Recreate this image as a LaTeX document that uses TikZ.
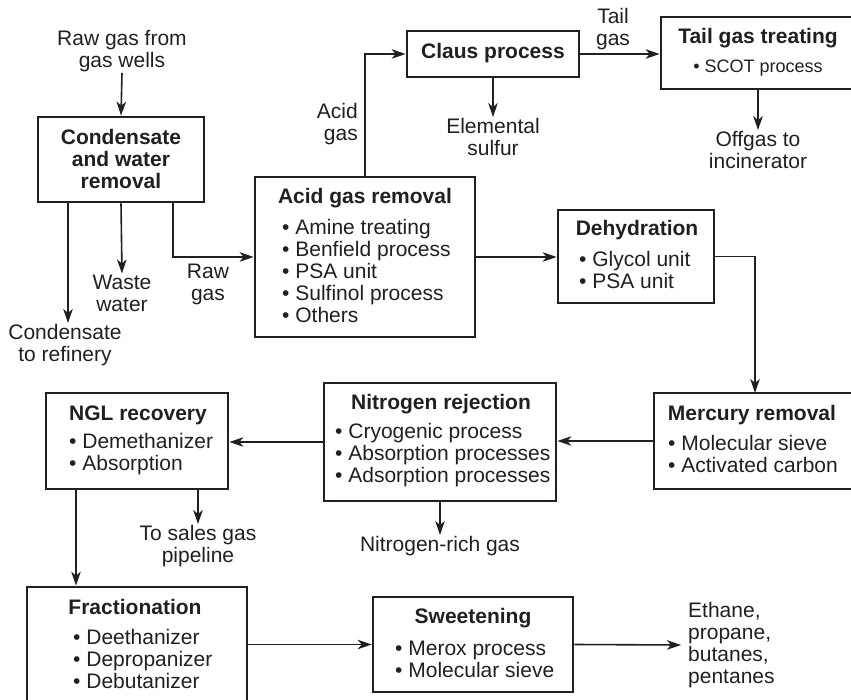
\documentclass[tikz,border=0pt]{standalone}
\usepackage{fontspec}
\setmainfont{Liberation Sans}
\usetikzlibrary{arrows.meta}
\definecolor{ink}{RGB}{35,31,32}
\begin{document}
\begin{tikzpicture}[x=1pt,y=-1pt,
  box/.style={draw=ink, line width=2.7pt, rectangle, inner sep=0pt},
  lbl/.style={font=\fontsize{21}{22}\selectfont, text=ink, align=center, inner sep=1pt},
  ttl/.style={font=\bfseries\fontsize{21}{22}\selectfont, text=ink, align=center, inner sep=0pt},
  items/.style={font=\fontsize{21}{22}\selectfont, text=ink, align=left, anchor=west, inner sep=0pt},
  small/.style={font=\fontsize{18}{20}\selectfont, text=ink, align=center, inner sep=0pt},
  wire/.style={draw=ink, line width=1.6pt},
  arr/.style={wire, -{Stealth[length=14pt,width=9.5pt,inset=4pt]}}]
\useasboundingbox (0,0) rectangle (851,700);
\fill[white] (0,0) rectangle (851,700);
\clip (0,0) rectangle (851,700);

% process boxes
\node[box, minimum width=166pt, minimum height=85pt]  (cond)  at (121,159.5) {};
\node[box, minimum width=220pt, minimum height=160pt] (agr)   at (365,257) {};
\node[box, minimum width=172pt, minimum height=46pt]  (claus) at (493,54) {};
\node[box, minimum width=206pt, minimum height=72pt]  (tail)  at (764,53) {};
\node[box, minimum width=212pt, minimum height=96pt]  (merc)  at (760,441) {};
\node[box, minimum width=156pt, minimum height=93pt]  (dehy)  at (636,256.5) {};
\node[box, minimum width=232pt, minimum height=118pt] (nitro) at (440,442) {};
\node[box, minimum width=182pt, minimum height=96pt]  (ngl)   at (137,441) {};
\node[box, minimum width=220pt, minimum height=118pt] (frac)  at (137,646) {};
\node[box, minimum width=200pt, minimum height=95pt]  (sweet) at (473,644.5) {};

% box titles and bullet lists
\node[ttl] (condT) at (121,159) {Condensate\\and water\\removal};
\node[ttl] (agrT) at (365,198) {Acid gas removal};
\node[items] (agrL) at (282,271) {• Amine treating\\• Benfield process\\• PSA unit\\• Sulfinol process\\• Others};
\node[ttl] (clausT) at (493,53) {Claus process};
\node[ttl] (tailT) at (758,38) {Tail gas treating};
\node[small] (tailL) at (758,68) {• SCOT process};
\node[ttl] (dehyT) at (637,230) {Dehydration};
\node[items] (dehyL) at (579,270) {• Glycol unit\\• PSA unit};
\node[ttl] (mercT) at (752,415) {Mercury removal};
\node[items] (mercL) at (668,454) {• Molecular sieve\\• Activated carbon};
\node[ttl] (nitroT) at (441,404) {Nitrogen rejection};
\node[items] (nitroL) at (335,455) {• Cryogenic process\\• Absorption processes\\• Adsorption processes};
\node[ttl] (nglT) at (138,415) {NGL recovery};
\node[items] (nglL) at (69,454) {• Demethanizer\\• Absorption};
\node[ttl] (fracT) at (135,607) {Fractionation};
\node[items] (fracL) at (73,659) {• Deethanizer\\• Depropanizer\\• Debutanizer};
\node[ttl] (sweetT) at (473,618) {Sweetening};
\node[items] (sweetL) at (395,659) {• Merox process\\• Molecular sieve};

% stream labels
\node[lbl] (feed)     at (122,51)  {Raw gas from\\gas wells};
\node[lbl] (refinery) at (65,345)  {Condensate\\to refinery};
\node[lbl] (waste)    at (122,293) {Waste\\water};
\node[lbl] (rawlbl)   at (208,284) {Raw\\gas};
\node[lbl, anchor=east, align=right] (acidlbl) at (359,124) {Acid\\gas};
\node[lbl] (taillbl)  at (613,29)  {Tail\\gas};
\node[lbl] (sulfur)   at (493,137) {Elemental\\sulfur};
\node[lbl] (offgas)   at (758,150) {Offgas to\\incinerator};
\node[lbl] (n2)       at (440,546) {Nitrogen-rich gas};
\node[lbl] (sales)    at (198,546) {To sales gas\\pipeline};
\node[lbl, anchor=west, align=left, inner sep=0pt] (products) at (688,645) {Ethane,\\propane,\\butanes,\\pentanes};

% tap points on box edges
\coordinate (condtap) at (68,202);
\coordinate (rawtap)  at (173,202);
\coordinate (ngltap)  at (198,489);
\coordinate (fractap) at (76,489);
\coordinate (tailtap) at (758,89);
\coordinate (merctap) at (755,393);

% connectors
\draw[arr] (feed.south) -- (cond.north);
\draw[arr] (condtap) -- (condtap |- refinery.north);
\draw[arr] (cond.south) -- (waste.north);
\draw[arr] (rawtap) |- (agr.west);
\draw[arr] (agr.north) |- (claus.west);
\draw[arr] (claus.east) -- (claus.east -| tail.west);
\draw[arr] (claus.south) -- (sulfur.north);
\draw[arr] (tailtap) -- (offgas.north);
\draw[arr] (agr.east) -- (agr.east -| dehy.west);
\draw[arr] (dehy.east) -| (merctap);
\draw[arr] (merc.west) -- (merc.west -| nitro.east);
\draw[arr] (nitro.west) -- (nitro.west -| ngl.east);
\draw[arr] (nitro.south) -- (n2.north);
\draw[arr] (ngltap) -- (ngltap |- sales.north);
\draw[arr] (fractap) -- (fractap |- frac.north);
\draw[arr] (frac.east |- sweet.west) -- (sweet.west);
\draw[arr] (sweet.east) -- ([xshift=-7pt]products.west);
\end{tikzpicture}
\end{document}
